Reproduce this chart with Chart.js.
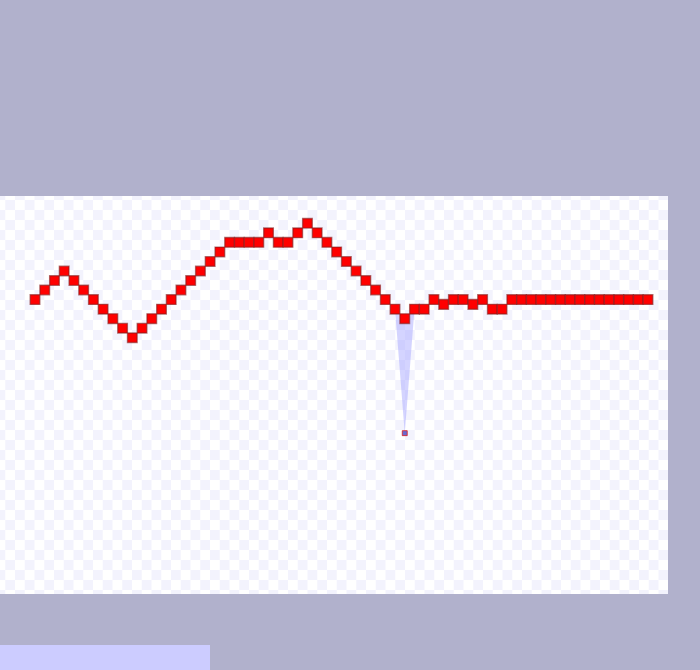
<!DOCTYPE html>
<html>
<head>
<meta charset="utf-8">
<script src="https://cdn.jsdelivr.net/npm/chart.js@4"></script>
<style>
  body {
    margin: 0;
    width: 700px;
    height: 670px;
    background: #b1b1cc;
    position: relative;
    overflow: hidden;
  }
  .panel {
    position: absolute;
    left: 0;
    top: 196px;
    width: 668px;
    height: 398px;
    background: repeating-conic-gradient(#f3f3fd 0 25%, #ffffff 0 50%) 15px 4px / 19.5px 20px;
  }
  .foot {
    position: absolute;
    left: 0;
    top: 645px;
    width: 210px;
    height: 25px;
    background: #ccccff;
  }
</style>
</head>
<body>
<div class="panel"><canvas id="myChart"></canvas></div>
<div class="foot"></div>
<script>
const red = "#ff0000";
const lavender = "rgba(170, 170, 255, 0.5)";

const labels = [];
for (let i = 1; i <= 64; i++) labels.push(i);

const mainValues = [
  0, 1, 2, 3, 2, 1, 0, -1, -2, -3, -4, -3, -2, -1, 0, 1, 2, 3, 4, 5,
  6, 6, 6, 6, 7, 6, 6, 7, 8, 7, 6, 5, 4, 3, 2, 1, 0, -1, -2, -1,
  -1, 0, -0.5, 0, 0, -0.5, 0, -1, -1, 0, 0, 0, 0, 0, 0, 0, 0, 0,
  0, 0, 0, 0, 0, 0,
];

// same walk, with the one low reading at point 39
const lowValues = [
  0, 1, 2, 3, 2, 1, 0, -1, -2, -3, -4, -3, -2, -1, 0, 1, 2, 3, 4, 5,
  6, 6, 6, 6, 7, 6, 6, 7, 8, 7, 6, 5, 4, 3, 2, 1, 0, -1, -14, -1,
  -1, 0, -0.5, 0, 0, -0.5, 0, -1, -1, 0, 0, 0, 0, 0, 0, 0, 0, 0,
  0, 0, 0, 0, 0, 0,
];

const yMin = -30;
const yMax = 10;

const ctx = document.getElementById("myChart");

new Chart(ctx, {
  type: "line",
  data: {
    labels: labels,
    datasets: [
      {
        label: "Series",
        data: mainValues,
        showLine: false,
        borderWidth: 0,
        borderColor: "transparent",
        pointStyle: "rect",
        pointRadius: 6.8,
        pointHoverRadius: 6.8,
        pointBackgroundColor: red,
        pointBorderColor: "rgba(130, 30, 30, 0.6)",
        pointBorderWidth: 1.4,
      },
      {
        label: "Low",
        data: lowValues,
        showLine: true,
        borderWidth: 0,
        borderColor: "transparent",
        backgroundColor: lavender,
        fill: 0,
        pointStyle: "rect",
        pointRadius: 3.5,
        pointHoverRadius: 3.5,
        pointBackgroundColor: "rgba(80, 80, 200, 0.85)",
        pointBorderColor: "rgba(220, 30, 30, 0.8)",
        pointBorderWidth: 1,
      },
    ],
  },
  options: {
    responsive: true,
    maintainAspectRatio: false,
    animation: false,
    layout: {
      padding: { left: 35, right: 20, top: 3, bottom: 5 },
    },
    plugins: {
      legend: { display: false },
      title: { display: false },
      tooltip: { enabled: false },
    },
    scales: {
      x: { display: false, offset: false },
      y: { display: false, min: yMin, max: yMax },
    },
  },
});
</script>
</body>
</html>
